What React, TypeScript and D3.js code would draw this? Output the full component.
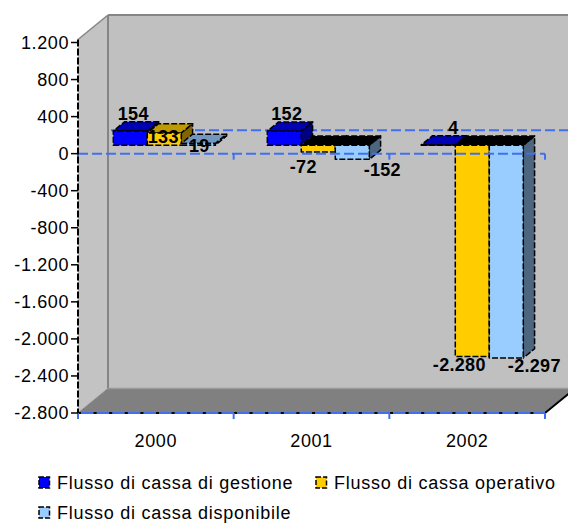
import React from "react";
import * as d3 from "d3";

const years = ["2000", "2001", "2002"];
const seriesNames = [
  "Flusso di cassa di gestione",
  "Flusso di cassa operativo",
  "Flusso di cassa disponibile",
];
const gestione = [154, 152, 4];
const operativo = [133, -72, -2280];
const disponibile = [19, -152, -2297];
const yTicks = [1200, 800, 400, 0, -400, -800, -1200, -1600, -2000, -2400, -2800];
// label nudges (Excel places some labels off-centre to avoid overlaps)
const labelNudgeX = [
  [3, 2.5, 15],
  [-1, -15, -13],
  [1, 30, 28],
];
const labelNudgeY = [
  [0, 0, 0],
  [21.5, 6, 0],
  [20, 2, -1],
];

const frontColors = ["#0000FF", "#FFCC00", "#99CCFF"];
const topColors = ["#0000B4", "#BF9900", "#7396C0"];
const sideColors = ["#000080", "#806600", "#4C6680"];

const W = 568;
const H = 523;
const FONT = "'Liberation Sans', Arial, sans-serif";
const DX = 30;
const DY = 24.5;
const Z0 = 0.343;
const Z1 = 0.72;
const AXIS_BLUE = "#4070F0";

const fmt = d3.formatLocale({
  decimal: ",",
  thousands: ".",
  grouping: [3],
  currency: ["", "€"],
  minus: "-",
}).format(",");

export default function App() {
  const series = [gestione, operativo, disponibile];
  const y = d3.scaleLinear().domain([-2800, 1200]).range([413, 42.5]);
  const x0 = d3.scaleBand<string>().domain(years).range([78, 545]);
  const xBars = d3.scaleBand<string>().domain(years).range([77, 539]);
  const xInner = d3
    .scaleBand<string>()
    .domain(seriesNames)
    .range([0, xBars.bandwidth()])
    .paddingOuter(0.765);

  const P = (x: number, v: number, z: number): [number, number] => [x + z * DX, y(v) - z * DY];
  const poly = (pts: [number, number][]) => pts.map((p) => p.join(",")).join(" ");

  const left = x0.range()[0];
  const right = x0.range()[1];
  const wallTop = y(1200) - 3;
  const vMin = -2800;

  const backTL: [number, number] = [left + DX, wallTop - DY];
  const backBR: [number, number] = P(right, vMin, 1);

  const bars: React.ReactNode[] = [];
  const labels: React.ReactNode[] = [];
  years.forEach((yr, c) => {
    seriesNames.forEach((sn, s) => {
      const v = series[s][c];
      const xl = (xBars(yr) as number) + (xInner(sn) as number);
      const xr = xl + xInner.bandwidth();
      const t = Math.max(v, 0);
      const front = [P(xl, 0, Z0), P(xr, 0, Z0), P(xr, v, Z0), P(xl, v, Z0)];
      const top = [P(xl, t, Z0), P(xr, t, Z0), P(xr, t, Z1), P(xl, t, Z1)];
      const side = [P(xr, 0, Z0), P(xr, v, Z0), P(xr, v, Z1), P(xr, 0, Z1)];
      const stroke = { stroke: "#000", strokeWidth: 1.5, strokeDasharray: "6 2", strokeLinejoin: "round" as const };
      bars.push(
        <g key={`b${c}-${s}`}>
          <polygon points={poly(side)} fill={sideColors[s]} {...stroke} />
          <polygon points={poly(top)} fill={v < 0 ? "#000" : topColors[s]} {...stroke} />
          <polygon points={poly(front)} fill={frontColors[s]} {...stroke} />
        </g>
      );
      const cx = (xl + xr) / 2 + Z0 * DX + labelNudgeX[s][c];
      let ly: number;
      if (v >= 0) {
        ly = y(v) - Z1 * DY - 2;
      } else {
        ly = y(v) - Z0 * DY + 15;
      }
      ly += labelNudgeY[s][c];
      labels.push(
        <text
          key={`l${c}-${s}`}
          x={cx}
          y={ly}
          textAnchor="middle"
          fontWeight="bold"
          fontSize={18}
          letterSpacing={0.3}
          fill="#000"
        >
          {fmt(v)}
        </text>
      );
    });
  });

  const catEdges = [...years.map((yr) => x0(yr) as number), right];

  const legendPos: [number, number][] = [
    [39, 477],
    [316, 477],
    [39, 507],
  ];

  return (
    <svg
      width={W}
      height={H}
      style={{ position: "absolute", left: 0, top: 0, background: "#fff" }}
      fontFamily={FONT}
    >
      {/* left side wall */}
      <polygon
        points={poly([
          [left, wallTop],
          backTL,
          [backTL[0], backBR[1]],
          [left, y(vMin)],
        ])}
        fill="#C3C3C3"
      />
      {/* back wall */}
      <rect x={backTL[0]} y={backTL[1]} width={backBR[0] - backTL[0]} height={backBR[1] - backTL[1]} fill="#C0C0C0" />
      {/* floor */}
      <polygon
        points={poly([P(left, vMin, 0), P(right, vMin, 0), P(right, vMin, 1), P(left, vMin, 1)])}
        fill="#808080"
      />
      {/* wall borders */}
      <line x1={backTL[0]} y1={backTL[1]} x2={backTL[0]} y2={backBR[1]} stroke="#858585" strokeWidth={2} />
      <line x1={backTL[0]} y1={backTL[1]} x2={W + 10} y2={backTL[1]} stroke="#858585" strokeWidth={2} />
      <line x1={left} y1={wallTop} x2={backTL[0]} y2={backTL[1]} stroke="#858585" strokeWidth={1.5} />
      <line x1={backTL[0]} y1={backBR[1]} x2={W + 10} y2={backBR[1]} stroke="#999" strokeWidth={1.5} />
      <line x1={left} y1={y(vMin)} x2={backTL[0]} y2={backBR[1]} stroke="#8a8a8a" strokeWidth={1} />
      <line {...{ x1: right, y1: y(vMin), x2: right + DX, y2: y(vMin) - DY }} stroke="#000" strokeWidth={2} />

      {/* back zero line */}
      <line
        x1={backTL[0] + 3}
        y1={y(0) - DY + 1}
        x2={W + 10}
        y2={y(0) - DY + 1}
        stroke={AXIS_BLUE}
        strokeWidth={2}
        strokeDasharray="10 4"
      />

      {bars}

      {/* front zero line with ticks */}
      <line x1={left} y1={y(0)} x2={right} y2={y(0)} stroke={AXIS_BLUE} strokeWidth={2} strokeDasharray="10 4" />
      {catEdges.map((xe, i) => (
        <line key={`zt${i}`} x1={xe} y1={y(0)} x2={xe} y2={y(0) + 6} stroke={AXIS_BLUE} strokeWidth={2} />
      ))}

      {/* bottom category axis */}
      <line x1={left} y1={y(vMin)} x2={right} y2={y(vMin)} stroke={AXIS_BLUE} strokeWidth={2} />
      <line
        x1={left}
        y1={y(vMin)}
        x2={right}
        y2={y(vMin)}
        stroke="#000"
        strokeWidth={2}
        strokeDasharray="3 12.6"
      />
      {catEdges.map((xe, i) => (
        <line key={`bt${i}`} x1={xe} y1={y(vMin)} x2={xe} y2={y(vMin) + 6} stroke={AXIS_BLUE} strokeWidth={2} />
      ))}
      {years.map((yr) => (
        <text
          key={`c${yr}`}
          x={(x0(yr) as number) + x0.bandwidth() / 2}
          y={447}
          textAnchor="middle"
          fontSize={18}
          letterSpacing={0.6}
          fill="#000"
        >
          {yr}
        </text>
      ))}

      {/* value axis */}
      <line x1={left} y1={wallTop} x2={left} y2={y(vMin)} stroke="#000" strokeWidth={2} strokeDasharray="7 2" />
      {yTicks.map((t) => (
        <g key={`yt${t}`}>
          <line x1={left - 7} y1={y(t)} x2={left} y2={y(t)} stroke="#000" strokeWidth={1.5} />
          <text x={left - 9} y={y(t)} dy="0.36em" textAnchor="end" fontSize={18} letterSpacing={0.6} fill="#000">
            {fmt(t)}
          </text>
        </g>
      ))}

      {labels}

      {/* legend */}
      {seriesNames.map((sn, i) => (
        <g key={`lg${i}`} transform={`translate(${legendPos[i][0]},${legendPos[i][1]})`}>
          <rect x={0} y={0} width={10.5} height={11} fill={frontColors[i]} stroke="#000" strokeWidth={1.5} strokeDasharray="5 2" />
          <text x={18} y={5.5} dy="0.36em" fontSize={18} letterSpacing={0.75} fill="#000">
            {sn}
          </text>
        </g>
      ))}
    </svg>
  );
}
